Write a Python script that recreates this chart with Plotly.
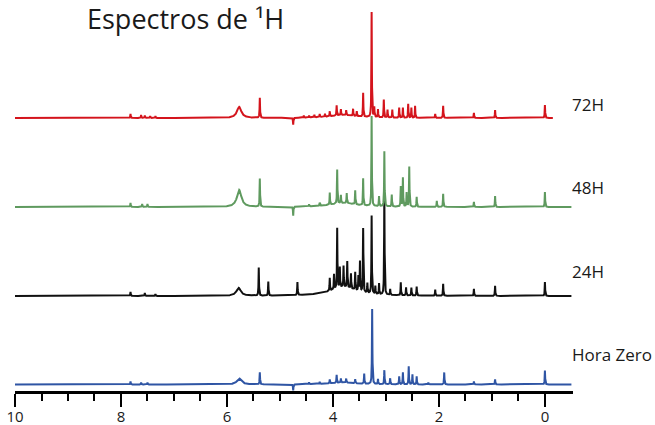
import numpy as np
import plotly.graph_objects as go

# ---------------- data (ppm, intensity) ----------------
spectrum_names = ["Hora Zero", "24H", "48H", "72H"]

# Hora Zero
h0_ppm = [7.82, 7.62, 7.50, 5.38, 4.75, 4.45, 4.25, 4.06, 3.93, 3.85, 3.75, 3.58, 3.41, 3.26, 3.15,
          3.03, 2.92, 2.75, 2.68, 2.57, 2.50, 2.42, 2.20, 1.90, 1.34, 0.94, 0.00]
h0_int = [3, 2, 2, 12, -6, 2, 2, 4, 8, 4, 4, 4, 10, 75, 5,
          14, 6, 8, 12, 18, 10, 8, 2, 12, 3, 5, 14]
h0_broad_ppm = [5.77, 3.80]
h0_broad_int = [6, 2]
h0_broad_w = [0.05, 0.30]

# 24H
h24_ppm = [7.82, 7.55, 7.35, 5.40, 5.22, 4.67, 4.06, 3.98, 3.92, 3.87, 3.80, 3.73, 3.66, 3.58, 3.52,
           3.49, 3.43, 3.35, 3.27, 3.20, 3.13, 3.03, 2.92, 2.72, 2.62, 2.52, 2.42, 2.07, 1.92,
           1.34, 0.94, 0.00]
h24_int = [4, 3, 2, 28, 14, 13, 13, 15, 60, 20, 21, 26, 15, 18, 15,
           30, 64, 10, 78, 8, 11, 102, 6, 13, 8, 8, 9, 6, 12,
           7, 10, 14]
h24_broad_ppm = [5.78, 3.80]
h24_broad_int = [8, 9]
h24_broad_w = [0.05, 0.30]

# 48H
h48_ppm = [7.82, 7.60, 7.50, 5.38, 4.75, 4.45, 4.25, 4.06, 3.92, 3.85, 3.74, 3.58, 3.43, 3.27, 3.13,
           3.03, 2.89, 2.72, 2.68, 2.61, 2.56, 2.42, 2.04, 1.92, 1.34, 0.94, 0.00]
h48_int = [4, 3, 3, 28, -9, 2, 3, 12, 34, 8, 10, 14, 27, 90, 10,
           55, 12, 20, 29, 14, 40, 10, 6, 13, 5, 11, 15]
h48_broad_ppm = [5.77, 3.80]
h48_broad_int = [17, 4]
h48_broad_w = [0.05, 0.30]

# 72H
h72_ppm = [7.82, 7.62, 7.55, 7.45, 7.35, 5.38, 4.75, 4.55, 4.45, 4.35, 4.25, 4.15, 4.06, 3.93, 3.85,
           3.75, 3.62, 3.55, 3.43, 3.27, 3.22, 3.15, 3.04, 2.97, 2.88, 2.75, 2.68, 2.58, 2.52,
           2.45, 2.07, 1.92, 1.34, 0.94, 0.00]
h72_int = [4, 3, 2.5, 2, 2, 20, -7, 2, 2, 2.5, 3, 3, 5, 10, 6,
           5, 7, 5, 24, 105, 10, 8, 18, 8, 8, 10, 10, 14, 10,
           12, 4, 12, 5, 8, 13]
h72_broad_ppm = [5.77, 3.80]
h72_broad_int = [11, 3]
h72_broad_w = [0.05, 0.30]

x_ticks_major = [10, 8, 6, 4, 2, 0]
x_ticks_minor = [9.5, 9, 8.5, 7.5, 7, 6.5, 5.5, 5, 4.5, 3.5, 3, 2.5, 1.5, 1, 0.5]

# ---------------- styling / layout constants ----------------
offsets = [6.5, 95, 184, 273]
end_ppm = [-0.5, -0.5, -0.5, -0.15]
colors = ["#2f55a4", "#111111", "#5f9a5f", "#d4141c"]
label_y = [354, 271, 187, 104]       # pixel rows of the labels
SHARP_W = 0.005

W, H = 655, 425
ML, MR, MT, MB = 15, 82, 0, 34
plot_h = H - MT - MB


def build(ppm, inten, bppm, bint, bw, end):
    grid = np.arange(10.0, end - 1e-9, -0.002)
    grid = np.unique(np.concatenate([grid, np.array(ppm, dtype=float), [end]]))[::-1]
    y = np.zeros_like(grid)
    for p, h in zip(ppm, inten):
        y += h * SHARP_W ** 2 / ((grid - p) ** 2 + SHARP_W ** 2)
    for p, h, w in zip(bppm, bint, bw):
        y += h * w ** 2 / ((grid - p) ** 2 + w ** 2)
    return grid, y


series = [
    (h0_ppm, h0_int, h0_broad_ppm, h0_broad_int, h0_broad_w),
    (h24_ppm, h24_int, h24_broad_ppm, h24_broad_int, h24_broad_w),
    (h48_ppm, h48_int, h48_broad_ppm, h48_broad_int, h48_broad_w),
    (h72_ppm, h72_int, h72_broad_ppm, h72_broad_int, h72_broad_w),
]

fig = go.Figure()
for i, (name, s) in enumerate(zip(spectrum_names, series)):
    gx, gy = build(*s, end_ppm[i])
    fig.add_trace(go.Scatter(x=gx, y=gy + offsets[i], mode="lines", name=name,
                             line=dict(color=colors[i], width=2), showlegend=False,
                             hoverinfo="skip"))

FONT = "Open Sans, DejaVu Sans, sans-serif"
for i, name in enumerate(spectrum_names):
    fig.add_annotation(xref="paper", yref="paper",
                       x=(570 - ML) / (W - ML - MR), y=(plot_h - label_y[i]) / plot_h,
                       xanchor="left", yanchor="middle", showarrow=False,
                       text=name, font=dict(family=FONT, size=17, color="#1a1a1a"))

fig.add_annotation(xref="paper", yref="paper",
                   x=(85 - ML) / (W - ML - MR), y=(plot_h - 18) / plot_h,
                   xanchor="left", yanchor="middle", showarrow=False,
                   text="Espectros de ¹H", font=dict(family=FONT, size=27, color="#1a1a1a"))

fig.update_layout(
    width=W, height=H,
    margin=dict(l=ML, r=MR, t=MT, b=MB, pad=0),
    paper_bgcolor="white", plot_bgcolor="white",
    xaxis=dict(range=[10, -0.53], showgrid=False, zeroline=False,
               showline=True, linecolor="black", linewidth=2.5,
               ticks="outside", tickmode="array", tickvals=x_ticks_major,
               ticktext=[str(v) for v in x_ticks_major],
               ticklen=13, tickwidth=2, tickcolor="black",
               ticklabelstandoff=-3,
               tickfont=dict(family=FONT, size=15, color="#1a1a1a"),
               minor=dict(tickmode="array", tickvals=x_ticks_minor, ticks="outside",
                          ticklen=7, tickwidth=2, tickcolor="black", showgrid=False)),
    yaxis=dict(range=[0, plot_h], visible=False, fixedrange=True),
)

fig.write_html("out.html")
